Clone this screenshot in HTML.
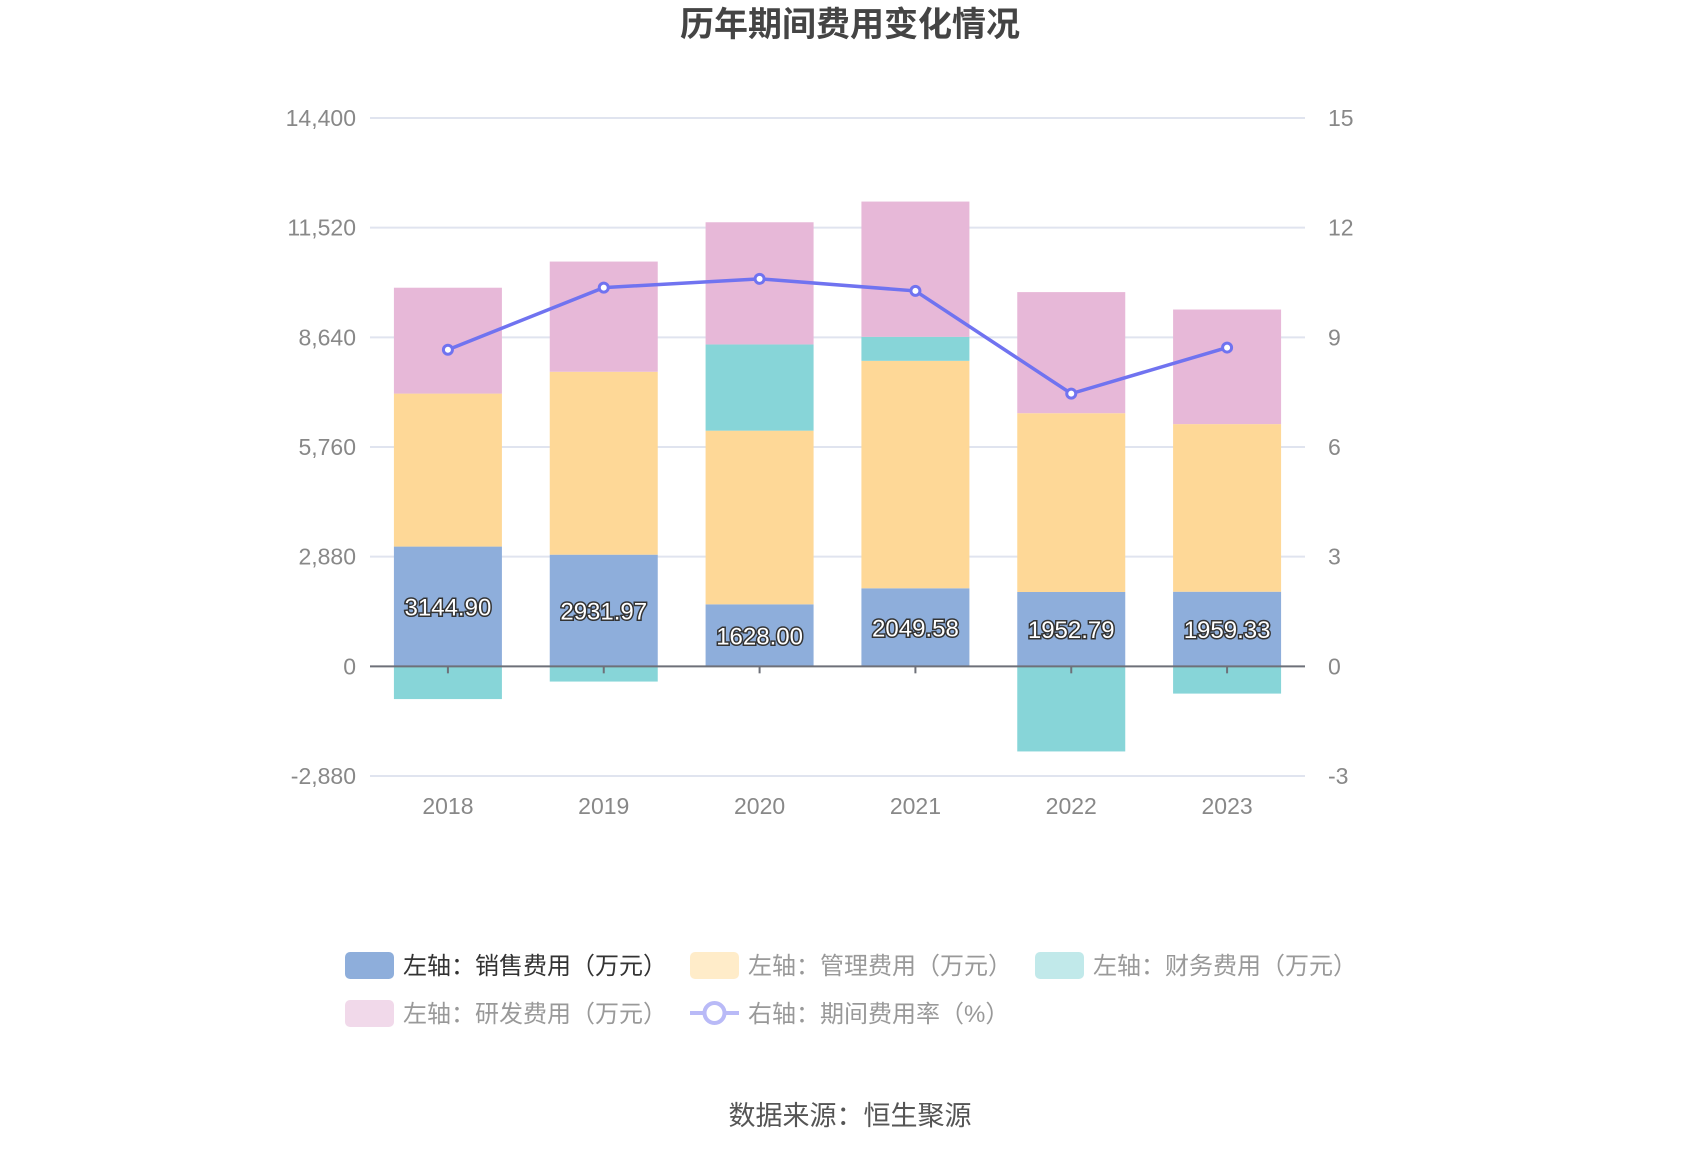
<!DOCTYPE html>
<html><head><meta charset="utf-8"><style>
body{margin:0;width:1700px;height:1150px;background:#fff;overflow:hidden;font-family:"Liberation Sans","Noto Sans CJK SC",sans-serif}
svg{position:absolute;left:0;top:0}
</style></head><body>
<svg id="c" width="1700" height="1150">
<text x="850" y="36" text-anchor="middle" font-size="34" font-weight="bold" fill="#444" font-family="Liberation Sans, Noto Sans CJK SC, sans-serif">历年期间费用变化情况</text>
<g id="grid"></g><g id="bars"></g><g id="line"></g><g id="legend"></g>
<text x="850" y="1125" text-anchor="middle" font-size="27" fill="#555" font-family="Liberation Sans, Noto Sans CJK SC, sans-serif">数据来源：恒生聚源</text>
</svg>
<script>
const categories=["2018","2019","2020","2021","2022","2023"];
const sales=[3144.90,2931.97,1628.00,2049.58,1952.79,1959.33];
const mgmt=[4018,4804,4561,5973,4695,4402];
const finance=[-860,-400,2264,630,-2235,-716];
const rnd=[2780,2894,3209,3553,3180,3009];
const rate=[8.66,10.36,10.6,10.27,7.46,8.72];
const leftTicks=[-2880,0,2880,5760,8640,11520,14400];
const rightTicks=[-3,0,3,6,9,12,15];
const NS="http://www.w3.org/2000/svg";
const X0=370,X1=1305,Y0=118,Y1=776;
const yL=v=>Y1-(v-(-2880))/(17280)*(Y1-Y0);
const yR=v=>Y1-(v-(-3))/18*(Y1-Y0);
const bw=(X1-X0)/categories.length;
const xC=i=>X0+bw*(i+0.5);
function mk(t,a,p){const e=document.createElementNS(NS,t);for(const k in a)e.setAttribute(k,a[k]);p.appendChild(e);return e;}
const F="Liberation Sans, Noto Sans CJK SC, sans-serif";
const grid=document.getElementById('grid');
leftTicks.forEach((v,i)=>{
 const y=yL(v);
 if(v!==0){const l=mk('line',{x1:X0,x2:X1,y1:y,y2:y,stroke:'#e0e4ef','stroke-width':2},grid);
 
 }
 const t=mk('text',{x:356,y:y+8,'text-anchor':'end','font-size':23,fill:'#888','font-family':F},grid);t.textContent=v.toLocaleString('en-US');
 
 
 const r=mk('text',{x:1328,y:yR(rightTicks[i])+8,'font-size':23,fill:'#888','font-family':F},grid);r.textContent=rightTicks[i];
 
 
});
const bars=document.getElementById('bars');
const W=108;
categories.forEach((c,i)=>{
 const x=xC(i)-W/2;let pos=0,neg=0;
 const segs=[[sales[i],'#8eaedb','bar-sales'],[mgmt[i],'#fed897','bar-mgmt'],[finance[i],'#87d5d8','bar-finance'],[rnd[i],'#e7b8d8','bar-rnd']];
 segs.forEach(s=>{const v=s[0];let a,b;
  if(v>=0){a=pos;b=pos+v;pos=b;}else{a=neg;b=neg+v;neg=b;}
  const r=mk('rect',{x:x,y:Math.min(yL(a),yL(b)),width:W,height:Math.abs(yL(a)-yL(b)),fill:s[1]},bars);
  
  
 });
 const tk=mk('line',{x1:xC(i),x2:xC(i),y1:yL(0),y2:yL(0)+7,stroke:'#6e7079','stroke-width':2},bars);
 
 
 const xl=mk('text',{x:xC(i),y:814,'text-anchor':'middle','font-size':23,fill:'#888','font-family':F},bars);xl.textContent=c;
 
 
});
const ax=mk('line',{x1:X0,x2:X1,y1:yL(0),y2:yL(0),stroke:'#6e7079','stroke-width':2},bars);


categories.forEach((c,i)=>{
 const t=mk('text',{x:xC(i),y:(yL(0)+yL(sales[i]))/2+9,'text-anchor':'middle','font-size':24,fill:'#fff',stroke:'#333','stroke-width':3,'paint-order':'stroke','font-family':F},bars);
 t.textContent=sales[i].toFixed(2);
 
 
});
const lg=document.getElementById('line');
const pl=mk('polyline',{points:rate.map((v,i)=>xC(i)+','+yR(v)).join(' '),fill:'none',stroke:'#7073f0','stroke-width':3.5},lg);


rate.forEach((v,i)=>{const p=mk('circle',{cx:xC(i),cy:yR(v),r:4.5,fill:'#fff',stroke:'#7073f0','stroke-width':3},lg);
 
 });
const leg=document.getElementById('legend');
const items=[[345,965,'#8eaedb','左轴：销售费用（万元）','#333'],[690,965,'#ffecc9','左轴：管理费用（万元）','#999'],[1035,965,'#c1e9ea','左轴：财务费用（万元）','#999'],[345,1013,'#f1d9ea','左轴：研发费用（万元）','#999'],[690,1013,null,'右轴：期间费用率（%）','#999']];
items.forEach(it=>{
 const g=mk('g',{},leg);
 
 
 if(it[2]) mk('rect',{x:it[0],y:it[1]-13,width:49,height:27,rx:5,fill:it[2]},g);
 else{mk('line',{x1:it[0],x2:it[0]+49,y1:it[1],y2:it[1],stroke:'#b9baf7','stroke-width':4},g);mk('circle',{cx:it[0]+24.5,cy:it[1],r:10,fill:'#fff',stroke:'#b9baf7','stroke-width':4},g);}
 const t=mk('text',{x:it[0]+58,y:it[1]+9,'font-size':24,fill:it[4],'font-family':F},g);t.textContent=it[3];
});
</script>
</body></html>
